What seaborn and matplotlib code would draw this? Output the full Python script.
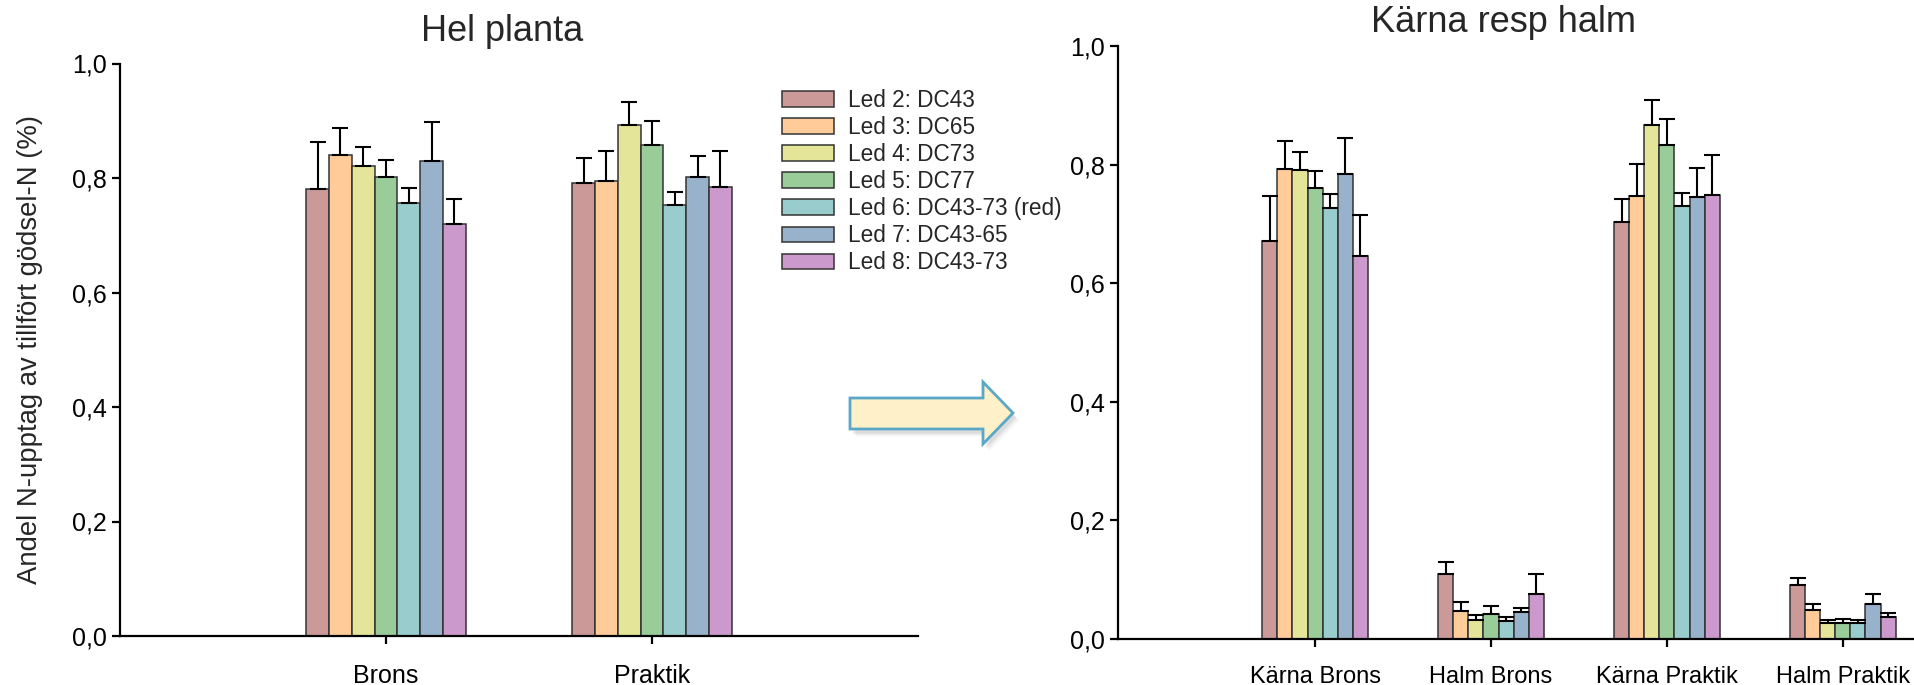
import matplotlib
matplotlib.use("Agg")
import matplotlib.pyplot as plt
from matplotlib.patches import Polygon
import numpy as np
import pandas as pd
import seaborn as sns

# --- data -------------------------------------------------------------
led_labels = ["Led 2: DC43", "Led 3: DC65", "Led 4: DC73", "Led 5: DC77",
              "Led 6: DC43-73 (red)", "Led 7: DC43-65", "Led 8: DC43-73"]
led_colors = ["#CC9999", "#FFCC99", "#E5E599", "#99CC99",
              "#99CCCC", "#99B2CC", "#CC99CC"]

hel_categories = ["Brons", "Praktik"]
hel_brons = [0.781, 0.840, 0.821, 0.802, 0.756, 0.829, 0.719]
hel_brons_err = [0.082, 0.047, 0.034, 0.030, 0.027, 0.068, 0.045]
hel_praktik = [0.791, 0.795, 0.892, 0.857, 0.753, 0.802, 0.784]
hel_praktik_err = [0.044, 0.052, 0.041, 0.043, 0.022, 0.037, 0.063]

del_categories = ["Kärna Brons", "Halm Brons", "Kärna Praktik", "Halm Praktik"]
karna_brons = [0.671, 0.793, 0.791, 0.761, 0.728, 0.784, 0.646]
karna_brons_err = [0.077, 0.048, 0.030, 0.029, 0.022, 0.061, 0.069]
halm_brons = [0.109, 0.047, 0.032, 0.042, 0.030, 0.045, 0.075]
halm_brons_err = [0.020, 0.015, 0.008, 0.013, 0.007, 0.007, 0.034]
karna_praktik = [0.703, 0.748, 0.867, 0.833, 0.730, 0.745, 0.749]
karna_praktik_err = [0.040, 0.053, 0.042, 0.045, 0.023, 0.049, 0.067]
halm_praktik = [0.091, 0.048, 0.026, 0.026, 0.026, 0.059, 0.037]
halm_praktik_err = [0.012, 0.011, 0.006, 0.008, 0.006, 0.016, 0.006]

y_ticks = [0.0, 0.2, 0.4, 0.6, 0.8, 1.0]
y_tick_labels = ["0,0", "0,2", "0,4", "0,6", "0,8", "1,0"]

hel_title = "Hel planta"
del_title = "Kärna resp halm"
y_label = "Andel N-upptag av tillfört gödsel-N (%)"


def long_table(categories, values, errors):
    rows = []
    for cat, vals, errs in zip(categories, values, errors):
        for led, v, e in zip(led_labels, vals, errs):
            rows.append({"kategori": cat, "led": led, "andel": v, "fel": e})
    return pd.DataFrame(rows)


hel_df = long_table(hel_categories, [hel_brons, hel_praktik],
                    [hel_brons_err, hel_praktik_err])
del_df = long_table(del_categories,
                    [karna_brons, halm_brons, karna_praktik, halm_praktik],
                    [karna_brons_err, halm_brons_err, karna_praktik_err, halm_praktik_err])

# --- style ------------------------------------------------------------
sns.set_theme(style="ticks")
plt.rcParams["font.family"] = ["Liberation Sans", "DejaVu Sans"]
plt.rcParams["axes.linewidth"] = 1.6
plt.rcParams["xtick.major.width"] = 1.6
plt.rcParams["ytick.major.width"] = 1.6
plt.rcParams["xtick.major.size"] = 6
plt.rcParams["ytick.major.size"] = 6

W, H = 1915, 685
fig = plt.figure(figsize=(W / 100, H / 100), dpi=100)
palette = dict(zip(led_labels, led_colors))


def draw_panel(ax, df, categories, xlim, tick_size):
    sns.barplot(data=df, x="kategori", y="andel", hue="led", order=categories,
                hue_order=led_labels, palette=palette, width=0.6, dodge=True,
                errorbar=None, edgecolor="#333333", linewidth=1.1,
                saturation=1.0, legend=False, ax=ax)
    # upper error bars only, placed from the drawn bars
    for led, container in zip(led_labels, ax.containers):
        sub = df[df["led"] == led].set_index("kategori").loc[categories]
        xs = [b.get_x() + b.get_width() / 2 for b in container]
        ys = [b.get_height() for b in container]
        ax.errorbar(xs, ys, yerr=[np.zeros(len(xs)), sub["fel"].values],
                    fmt="none", ecolor="black", elinewidth=1.5,
                    capsize=6, capthick=1.5, zorder=3)
    ax.set_xlim(*xlim)
    ax.set_ylim(0, 1.0)
    ax.set_yticks(y_ticks)
    ax.set_yticklabels(y_tick_labels, fontsize=18)
    ax.tick_params(axis="x", labelsize=tick_size, pad=14)
    ax.set_xlabel("")
    ax.set_ylabel("")
    ax.set_facecolor("none")
    sns.despine(ax=ax)
    for s in ("left", "bottom"):
        ax.spines[s].set_color("black")
    ax.tick_params(colors="black")


ax1 = fig.add_axes([120 / W, 1 - 636 / H, (918 - 120) / W, (636 - 63.5) / H])
draw_panel(ax1, hel_df, hel_categories, (-1.0, 2.0), 18)
ax1.set_ylabel(y_label, fontsize=19.8, labelpad=21)

ax2 = fig.add_axes([1118 / W, 1 - 638.7 / H, (W - 1118) / W, (638.7 - 46.4) / H])
draw_panel(ax2, del_df, del_categories, (-1.12, 3.41), 17)

# legend for the led colours
handles = [plt.Rectangle((0, 0), 1, 1, facecolor=c, edgecolor="#333333", linewidth=1.1)
           for c in led_colors]
fig.legend(handles, led_labels, loc="upper left", bbox_to_anchor=(782 / W, 1 - 89 / H),
           frameon=False, fontsize=16.3, handlelength=2.3, handleheight=0.7,
           handletextpad=0.6, labelspacing=0.18, borderpad=0, borderaxespad=0)

fig.text(502 / W, 1 - 41 / H, hel_title, fontsize=26, ha="center", va="baseline")
fig.text(1504 / W, 1 - 32 / H, del_title, fontsize=26, ha="center", va="baseline")

# connecting arrow between the panels, drawn on a transparent overlay
overlay = fig.add_axes([0, 0, 1, 1], zorder=10)
overlay.set_xlim(0, W)
overlay.set_ylim(H, 0)
overlay.axis("off")
overlay.patch.set_alpha(0)
arrow_pts = np.array([(850, 398), (983, 398), (983, 382), (1013, 413),
                      (983, 444), (983, 429), (850, 429)])
for k, a in ((6, 0.06), (4.5, 0.09), (3, 0.12)):
    overlay.add_patch(Polygon(arrow_pts + [k, k + 1.5], closed=True, facecolor="#777777",
                              edgecolor="none", alpha=a))
overlay.add_patch(Polygon(arrow_pts, closed=True, facecolor="#FEF0C8",
                          edgecolor="#5AA8C8", linewidth=2))

fig.savefig("out.png", dpi=100)
